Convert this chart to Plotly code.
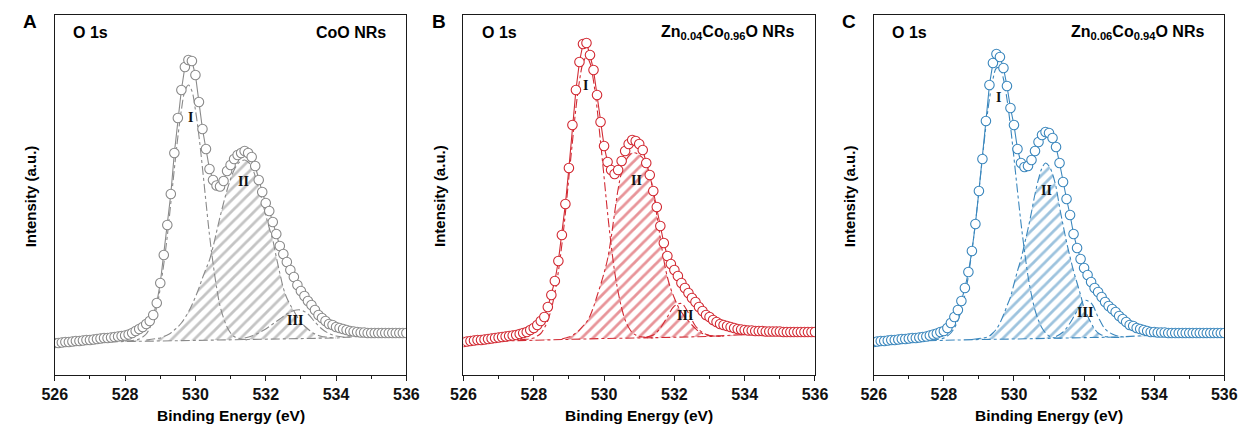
import numpy as np
import plotly.graph_objects as go

# ---------------- data ----------------
energy = [round(526.0 + 0.1 * i, 1) for i in range(101)]  # 526.0 ... 536.0 eV

# measured spectra (a.u.)
A_data = [32, 32, 32.5, 33, 33, 33.5, 34, 34, 34.5, 35,
          35, 35.5, 36, 36.5, 37, 37, 37.5, 38, 38.5, 39,
          39.5, 40.5, 42, 44, 46, 48, 51, 54, 60, 72,
          92, 120, 150, 181, 222, 257, 285, 308, 315, 314,
          300, 273, 246, 226, 206, 195, 189.5, 188.5, 194, 204,
          210, 216, 220, 222, 224, 222, 218, 209, 195, 183,
          172, 164, 153, 141, 129, 121, 113, 105, 98, 90,
          84, 79, 74, 70, 65, 60, 57, 54, 51, 50,
          48, 47, 46, 45, 44, 43.5, 43, 42.5, 42.5, 42,
          42, 42, 42, 42, 42, 42, 42, 42, 42, 42,
          42]
B_data = [33, 33.5, 34, 34.5, 35, 35, 35.5, 36, 36.5, 37,
          37.5, 38, 38.5, 39, 39.5, 40, 41, 42, 43, 45,
          47, 50, 54, 58, 68, 80, 94, 114, 140, 171,
          207, 250, 285, 313, 331, 332, 320, 305, 280, 253,
          229, 213, 205, 201, 205, 214, 224, 231, 235, 234,
          231, 225, 212, 200, 184, 168, 149, 132, 119, 111,
          105, 99, 92, 87, 82, 77, 73, 68, 64, 60,
          58, 55, 53, 51, 50, 49, 48, 47, 46, 45.5,
          45, 44.5, 44.5, 44, 44, 44, 43.5, 43.5, 43.5, 43.5,
          43.5, 43, 43, 43, 43, 43, 43, 43, 43, 43,
          43]
C_data = [33, 33.5, 34, 34, 34.5, 35, 35, 35.5, 36, 36,
          36.5, 37, 37, 37.5, 38, 38.5, 39.5, 40.5, 41.5, 43,
          44, 47, 52, 58, 65, 74, 87, 103, 124, 151,
          184, 216, 254, 290, 312, 321, 318, 307, 289, 267,
          250, 226, 212, 208, 209, 215, 224, 233, 240, 243,
          242, 237, 228, 212, 193, 176, 160, 141, 127, 116,
          107, 100, 93, 87, 83, 78, 73, 69, 66, 63,
          59, 56, 53, 50, 49, 47, 46, 45, 44, 43,
          43, 42.5, 42.5, 42.5, 42, 42, 42, 42, 42, 42,
          42, 42, 42, 42, 42, 42, 42, 42, 42, 42,
          42]

# backgrounds (1 eV steps)
bg_x = [526, 527, 528, 529, 530, 531, 532, 533, 534, 535, 536]
A_bg = [32, 33, 33.5, 34, 34.5, 35, 35.5, 36, 37, 39.5, 42]
B_bg = [33, 34, 35, 35.8, 36.5, 37, 37.5, 38.5, 40.5, 42, 43]
C_bg = [33, 34, 35, 35.5, 36, 36.5, 37, 38, 40, 41.5, 42]

# fitted components (peak + background)
A_I_start = 528.0
A_I = [34, 34.2, 34.5, 35, 36, 38, 41, 47, 56, 68,
       87, 111, 139, 172, 206, 238, 265, 284, 290, 284,
       265, 239, 207, 173, 140, 112, 88, 69, 57, 48,
       42, 38.5, 37, 36, 35.5, 35]
A_II_start = 528.6
A_II = [35, 35.5, 36, 36.5,
        37, 38.5, 40, 42, 45, 48, 52, 57, 63, 70,
        78, 87, 97, 106, 115, 128, 143, 158, 172, 185,
        196, 205, 211, 214, 215, 213, 208, 199, 187, 174,
        160, 147, 135, 118, 102, 87, 77, 70, 64, 58,
        53, 49, 46, 43, 41, 39.5, 38.5, 38, 37.5, 37.2, 37]
A_III_start = 531.4
A_III = [37, 39, 42, 46, 51, 56, 61, 64.5, 65, 61, 53, 46, 41.5, 39, 38, 38]

B_I_start = 527.6
B_I = [35.2, 35.5, 35.8, 36.3,
       37, 39, 41.5, 47, 54.5, 66, 82, 103.5, 130.5, 162,
       198, 233, 267, 294, 312, 318, 312, 294, 267, 233,
       198, 162, 130.5, 103.5, 83, 67, 55, 47.5, 42.5, 40,
       38.5, 38, 37.5, 37.2, 37]
B_II_start = 528.8
B_II = [36, 37,
        38, 39.5, 42, 45, 49, 53, 59, 68, 79, 90,
        102, 116, 137, 162, 186, 203, 213, 219, 222, 222,
        220, 217, 212, 201, 183, 160, 137, 115, 98, 86,
        77, 69, 63, 58, 54, 50, 46.5, 43.5, 41.5, 40.5,
        39.5, 39, 38.8, 38.7, 38.6]
B_III_start = 531.2
B_III = [38, 40, 47, 58, 69, 71.5, 62, 49, 42.5, 39.5, 39, 38.8]

C_I_start = 527.6
C_I = [35, 35.2, 35.5, 36,
       37, 39, 42, 47, 54.5, 65, 80, 99, 124, 152,
       184, 217, 249, 276, 296, 307, 307, 296, 276, 249,
       217, 184, 152, 124, 99, 80, 65, 54.5, 47, 42,
       39, 37.5, 37, 36.7, 36.5]
C_II_start = 528.8
C_II = [35.5, 36,
        36.5, 37, 37.5, 39, 42, 46, 52, 60, 69, 78,
        91, 104, 116, 131, 146, 163, 181, 196, 207, 212,
        209, 201, 188, 168, 150, 133, 118, 104, 92, 80,
        67, 59, 52, 46, 42, 40, 38.5, 38, 37.7, 37.6, 37.5]
C_III_start = 531.2
C_III = [38.5, 43, 52, 64, 74.5, 72, 58, 46, 41, 38.5, 38]

titles_left = ["O 1s", "O 1s", "O 1s"]
titles_right = ["CoO NRs", "Zn<sub>0.04</sub>Co<sub>0.96</sub>O NRs",
                "Zn<sub>0.06</sub>Co<sub>0.94</sub>O NRs"]
panel_letters = ["A", "B", "C"]
colors = ["#8a8a8a", "#d22a33", "#3b87bd"]
x_ticks = [526, 528, 530, 532, 534, 536]

# label positions (eV, intensity)
labels = [
    [("I", 529.85, 258), ("II", 531.36, 194), ("III", 532.83, 55)],
    [("I", 529.48, 290), ("II", 530.92, 195), ("III", 532.31, 60)],
    [("I", 529.55, 278), ("II", 530.93, 185), ("III", 532.04, 63)],
]

W, H = 1252, 425
x_dom_px = [(42.7, 401.7), (460, 819), (879, 1237)]
y_top_px, y_bot_px = 15, 375


def grid(start, n, step=0.1):
    return [round(start + step * i, 2) for i in range(n)]


panels = [
    (A_data, A_bg, (A_I_start, A_I, 0.1), (A_II_start, A_II, 0.1), (A_III_start, A_III, 0.2)),
    (B_data, B_bg, (B_I_start, B_I, 0.1), (B_II_start, B_II, 0.1), (B_III_start, B_III, 0.2)),
    (C_data, C_bg, (C_I_start, C_I, 0.1), (C_II_start, C_II, 0.1), (C_III_start, C_III, 0.2)),
]

fig = go.Figure()
layout = dict(width=W, height=H, margin=dict(l=0, r=0, t=0, b=0),
              paper_bgcolor="white", plot_bgcolor="white", showlegend=False,
              annotations=[])

for k, (data, bg, comp1, comp2, comp3) in enumerate(panels):
    xa = "x" if k == 0 else f"x{k+1}"
    ya = "y" if k == 0 else f"y{k+1}"
    col = colors[k]
    dash_line = dict(color=col, width=1.1, dash="dashdot")

    # background
    fig.add_trace(go.Scatter(x=bg_x, y=bg, mode="lines", line=dash_line,
                             xaxis=xa, yaxis=ya, hoverinfo="skip"))
    # component II hatched
    s2, v2, st2 = comp2
    fig.add_trace(go.Scatter(x=grid(s2, len(v2), st2), y=v2, mode="lines",
                             line=dict(color=col, width=1.1, dash="dashdot", shape="spline"),
                             fill="tonexty", fillcolor="rgba(255,255,255,0)",
                             fillpattern=dict(shape="/", fgcolor=col, bgcolor="rgba(255,255,255,0)",
                                              size=8, solidity=0.35, fillmode="overlay"),
                             xaxis=xa, yaxis=ya, hoverinfo="skip"))
    # component I, III
    for (s, v, st) in (comp1, comp3):
        fig.add_trace(go.Scatter(x=grid(s, len(v), st), y=v, mode="lines",
                                 line=dict(color=col, width=1.1, dash="dashdot", shape="spline"),
                                 xaxis=xa, yaxis=ya, hoverinfo="skip"))
    # envelope + data
    fig.add_trace(go.Scatter(x=energy, y=data, mode="lines+markers",
                             line=dict(color=col, width=1.1),
                             marker=dict(symbol="circle", size=9.5, color="white",
                                         line=dict(color=col, width=1.1)),
                             xaxis=xa, yaxis=ya))

    d0, d1 = x_dom_px[k]
    axis_common = dict(showline=True, linecolor="#1a1a1a", linewidth=1.2, mirror=True,
                       showgrid=False, zeroline=False)
    layout["xaxis" if k == 0 else f"xaxis{k+1}"] = dict(
        domain=[d0 / W, d1 / W], anchor=ya, range=[526, 536],
        tickvals=x_ticks, ticks="outside", ticklen=5, tickwidth=1.2, tickcolor="#1a1a1a",
        tickfont=dict(family="Liberation Sans", size=16, color="#111", weight="bold"),
        minor=dict(dtick=1, ticks="outside", ticklen=3, tickwidth=1.1, tickcolor="#1a1a1a"),
        **axis_common)
    layout["yaxis" if k == 0 else f"yaxis{k+1}"] = dict(
        domain=[1 - y_bot_px / H, 1 - y_top_px / H], anchor=xa, range=[0, 360],
        showticklabels=False, ticks="", **axis_common)

    ann = layout["annotations"]
    # panel letter
    ann.append(dict(text="<b>%s</b>" % panel_letters[k], xref="paper", yref="paper",
                    x=(d0 - 25) / W, y=1 - 22 / H, xanchor="center", yanchor="middle",
                    showarrow=False, font=dict(family="Liberation Sans", size=19, color="black")))
    ann.append(dict(text="<b>%s</b>" % titles_left[k], xref="paper", yref="paper",
                    x=(d0 + 17) / W, y=1 - 33 / H, xanchor="left", yanchor="middle",
                    showarrow=False, font=dict(family="Liberation Sans", size=16, color="black")))
    ann.append(dict(text="<b>%s</b>" % titles_right[k], xref="paper", yref="paper",
                    x=(d1 - 19) / W, y=1 - 33 / H, xanchor="right", yanchor="middle",
                    showarrow=False, font=dict(family="Liberation Sans", size=16, color="black")))
    ann.append(dict(text="<b>Binding Energy (eV)</b>", xref="paper", yref="paper",
                    x=(d0 + d1) / 2 / W, y=1 - 415 / H, xanchor="center", yanchor="middle",
                    showarrow=False, font=dict(family="Liberation Sans", size=15.5, color="black")))
    ann.append(dict(text="<b>Intensity (a.u.)</b>", xref="paper", yref="paper",
                    x=(d0 - 25) / W, y=1 - 196 / H, xanchor="center", yanchor="middle",
                    textangle=-90, showarrow=False,
                    font=dict(family="Liberation Sans", size=15, color="black")))
    for (t, lx, ly) in labels[k]:
        ann.append(dict(text="<b>%s</b>" % t, xref=xa, yref=ya, x=lx, y=ly,
                        xanchor="center", yanchor="middle", showarrow=False,
                        font=dict(family="Liberation Serif", size=14, color="#111")))

fig.update_layout(**layout)
fig.write_html("out.html")
